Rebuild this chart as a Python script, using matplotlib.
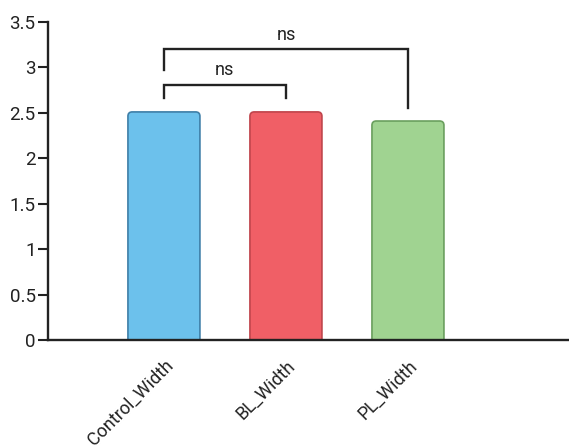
import matplotlib
matplotlib.use('Agg')
import matplotlib.pyplot as plt
from matplotlib.patches import FancyBboxPatch
from matplotlib.transforms import ScaledTranslation

plt.rcParams['font.family'] = ['Roboto', 'DejaVu Sans']

# data
groups = ['Control_Width', 'BL_Width', 'PL_Width']
means = [2.51, 2.51, 2.41]
colors = ['#6CC1EC', '#F05F66', '#A0D391']
edges = ['#3F7FA8', '#C0454C', '#6A9F5E']

# significance brackets: (i, j, y_bar, left leg bottom, right leg bottom, label)
brackets = [(0, 1, 2.81, 2.66, 2.66, 'ns'),
            (0, 2, 3.20, 2.97, 2.55, 'ns')]

fig = plt.figure(figsize=(5.69, 4.48), dpi=100)
ax = fig.add_axes([0.0844, 0.241, 0.9156, 0.710])

ax.set_xlim(-0.95, 3.32)
ax.set_ylim(0, 3.5)

x = range(len(groups))
bars = ax.bar(x, means, width=0.59, color=colors, edgecolor=edges, linewidth=1.2, zorder=2)

# swap plain rectangles for ones with rounded top corners
bb = ax.get_window_extent()
aspect = (3.5 / bb.height) / (4.27 / bb.width)
for b in bars:
    b.set_visible(False)
    bx, by = b.get_x(), b.get_y()
    w, h = b.get_width(), b.get_height()
    p = FancyBboxPatch((bx, by - 0.1), w, h + 0.1,
                       boxstyle='round,pad=0,rounding_size=0.035',
                       mutation_aspect=aspect,
                       facecolor=b.get_facecolor(), edgecolor=b.get_edgecolor(),
                       linewidth=1.2, zorder=2)
    ax.add_patch(p)

for i, j, yb, yl, yr, lab in brackets:
    ax.plot([i, i, j, j], [yl, yb, yb, yr], color='#222222', lw=1.7,
            solid_joinstyle='miter')
    ax.text((i + j) / 2, yb + 0.06, lab, ha='center', va='bottom', fontsize=13,
            color='#222222')

ax.set_yticks([0, 0.5, 1, 1.5, 2, 2.5, 3, 3.5])
ax.set_yticklabels(['0', '0.5', '1', '1.5', '2', '2.5', '3', '3.5'])
ax.set_xticks(list(x))
ax.set_xticklabels(groups, rotation=45, ha='right', rotation_mode='anchor')
off = ScaledTranslation(10 / 100, 0, fig.dpi_scale_trans)
for t in ax.get_xticklabels():
    t.set_transform(t.get_transform() + off)

for s in ['top', 'right']:
    ax.spines[s].set_visible(False)
ax.spines['left'].set_linewidth(1.7)
ax.spines['bottom'].set_linewidth(1.7)
ax.spines['left'].set_color('#222222')
ax.spines['bottom'].set_color('#222222')
ax.spines['bottom'].set_zorder(3)
ax.tick_params(axis='y', length=7, width=1.5, labelsize=13.5, pad=2,
               labelcolor='#222222', color='#222222')
ax.tick_params(axis='x', length=0, labelsize=13, pad=12, labelcolor='#222222')

fig.savefig('out.png', dpi=100)
